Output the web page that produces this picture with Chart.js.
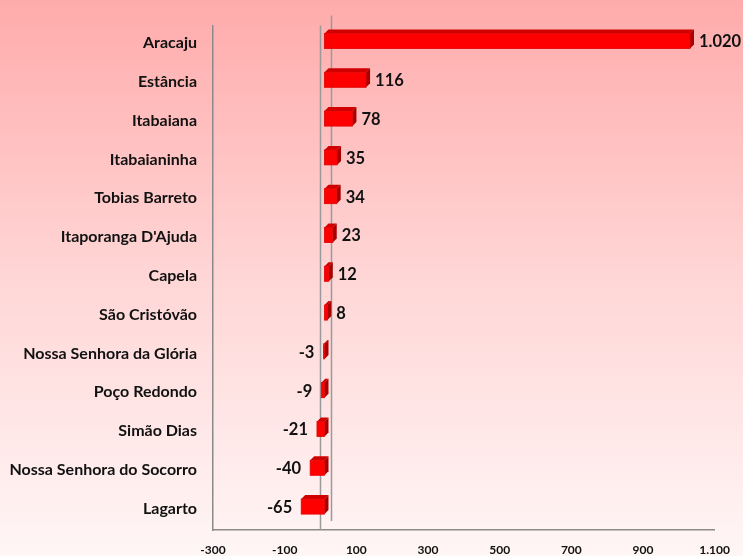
<!DOCTYPE html>
<html>
<head>
<meta charset="utf-8">
<script src="https://cdn.jsdelivr.net/npm/chart.js@4.4.1/dist/chart.umd.min.js"></script>
<style>
    body { margin: 0; background: #fff; }
    #wrap { width: 743px; height: 556px; }
</style>
</head>
<body>
<div id="wrap"><canvas id="chart" width="743" height="556"></canvas></div>
<script>
// Chart data
const categories = [
    'Aracaju', 'Estância', 'Itabaiana', 'Itabaianinha', 'Tobias Barreto',
    "Itaporanga D'Ajuda", 'Capela', 'São Cristóvão', 'Nossa Senhora da Glória',
    'Poço Redondo', 'Simão Dias', 'Nossa Senhora do Socorro', 'Lagarto'
];
const values = [1020, 116, 78, 35, 34, 23, 12, 8, -3, -9, -21, -40, -65];
const axisMin = -300;
const axisMax = 1100;
const axisStep = 200;

const FONT = 'Lato, "Open Sans", sans-serif';
const DEPTH = 4;      // 3D depth of bars
const SHIFT = 4;      // bars sit slightly right of the front zero line

/**
 * Format number the Brazilian way (1.020)
 */
function formatBR(v) {
    const s = Math.abs(v).toString().replace(/\B(?=(\d{3})+(?!\d))/g, '.');
    return (v < 0 ? '-' : '') + s;
}

// Pink gradient background
const backgroundPlugin = {
    id: 'pinkBackground',
    beforeDraw(chart) {
        const ctx = chart.ctx;
        const g = ctx.createLinearGradient(0, 0, 0, chart.height);
        g.addColorStop(0, '#ffabab');
        g.addColorStop(0.5, '#ffd6d6');
        g.addColorStop(1, '#fff6f6');
        ctx.save();
        ctx.fillStyle = g;
        ctx.fillRect(0, 0, chart.width, chart.height);
        ctx.restore();
    }
};

// Zero lines and 3D bars
const barsPlugin = {
    id: 'bars3d',
    afterDatasetsDraw(chart) {
        const ctx = chart.ctx;
        const area = chart.chartArea;
        const x0 = chart.scales.x.getPixelForValue(0);
        ctx.save();
        ctx.strokeStyle = '#9a9a9a';
        ctx.lineWidth = 1.5;
        ctx.beginPath();
        ctx.moveTo(x0 + 11, area.top - 10);
        ctx.lineTo(x0 + 11, area.bottom - 9);
        ctx.moveTo(x0, area.top);
        ctx.lineTo(x0, area.bottom);
        ctx.stroke();

        const meta = chart.getDatasetMeta(0);
        meta.data.forEach((bar, i) => {
            const p = bar.getProps(['x', 'y', 'base', 'height'], true);
            const left = Math.min(p.x, p.base) + SHIFT;
            const right = Math.max(p.x, p.base) + SHIFT;
            const top = p.y - p.height / 2 - DEPTH;
            const bottom = p.y + p.height / 2 - DEPTH;

            // top face
            ctx.fillStyle = '#d00000';
            ctx.beginPath();
            ctx.moveTo(left, top);
            ctx.lineTo(left + DEPTH, top - DEPTH);
            ctx.lineTo(right + DEPTH, top - DEPTH);
            ctx.lineTo(right, top);
            ctx.closePath();
            ctx.fill();

            // side face
            ctx.fillStyle = '#a80000';
            ctx.beginPath();
            ctx.moveTo(right, top);
            ctx.lineTo(right + DEPTH, top - DEPTH);
            ctx.lineTo(right + DEPTH, bottom - DEPTH);
            ctx.lineTo(right, bottom);
            ctx.closePath();
            ctx.fill();

            // front face
            ctx.fillStyle = '#ff0000';
            ctx.fillRect(left, top, right - left, bottom - top);
            ctx.strokeStyle = '#e00000';
            ctx.lineWidth = 0.8;
            ctx.strokeRect(left, top, right - left, bottom - top);

            // value label
            const v = values[i];
            ctx.fillStyle = '#111';
            ctx.font = 'bold 16.5px ' + FONT;
            ctx.textBaseline = 'middle';
            if (v >= 0) {
                ctx.textAlign = 'left';
                ctx.fillText(formatBR(v), p.x + SHIFT + DEPTH + 5, p.y - 3);
            } else {
                ctx.textAlign = 'right';
                ctx.fillText(formatBR(v), p.x - 5, p.y - 3);
            }
        });
        ctx.restore();
    }
};

const ctx = document.getElementById('chart').getContext('2d');
new Chart(ctx, {
    type: 'bar',
    data: {
        labels: categories,
        datasets: [{
            data: values,
            backgroundColor: 'rgba(0,0,0,0)',
            borderWidth: 0,
            barThickness: 15
        }]
    },
    options: {
        indexAxis: 'y',
        responsive: false,
        animation: false,
        layout: { padding: { top: 20, right: 25.5, left: 0, bottom: 0 } },
        plugins: {
            legend: { display: false },
            tooltip: { enabled: false }
        },
        scales: {
            x: {
                min: axisMin,
                max: axisMax,
                grid: { display: false, drawTicks: false },
                border: { display: true, color: '#8a8a8a', width: 1.5 },
                ticks: {
                    stepSize: axisStep,
                    padding: 13,
                    color: '#111',
                    font: { family: FONT, size: 12, weight: 'bold' },
                    callback: function(value) { return formatBR(value); }
                },
                afterFit: function(scale) { scale.height = 26; }
            },
            y: {
                grid: { display: false, drawTicks: false },
                border: { display: true, color: '#8a8a8a', width: 1.5 },
                ticks: {
                    padding: 16,
                    labelOffset: -2,
                    color: '#111',
                    font: { family: FONT, size: 16, weight: 'bold' }
                },
                afterFit: function(scale) { scale.width = 213; }
            }
        }
    },
    plugins: [backgroundPlugin, barsPlugin]
});
</script>
</body>
</html>
